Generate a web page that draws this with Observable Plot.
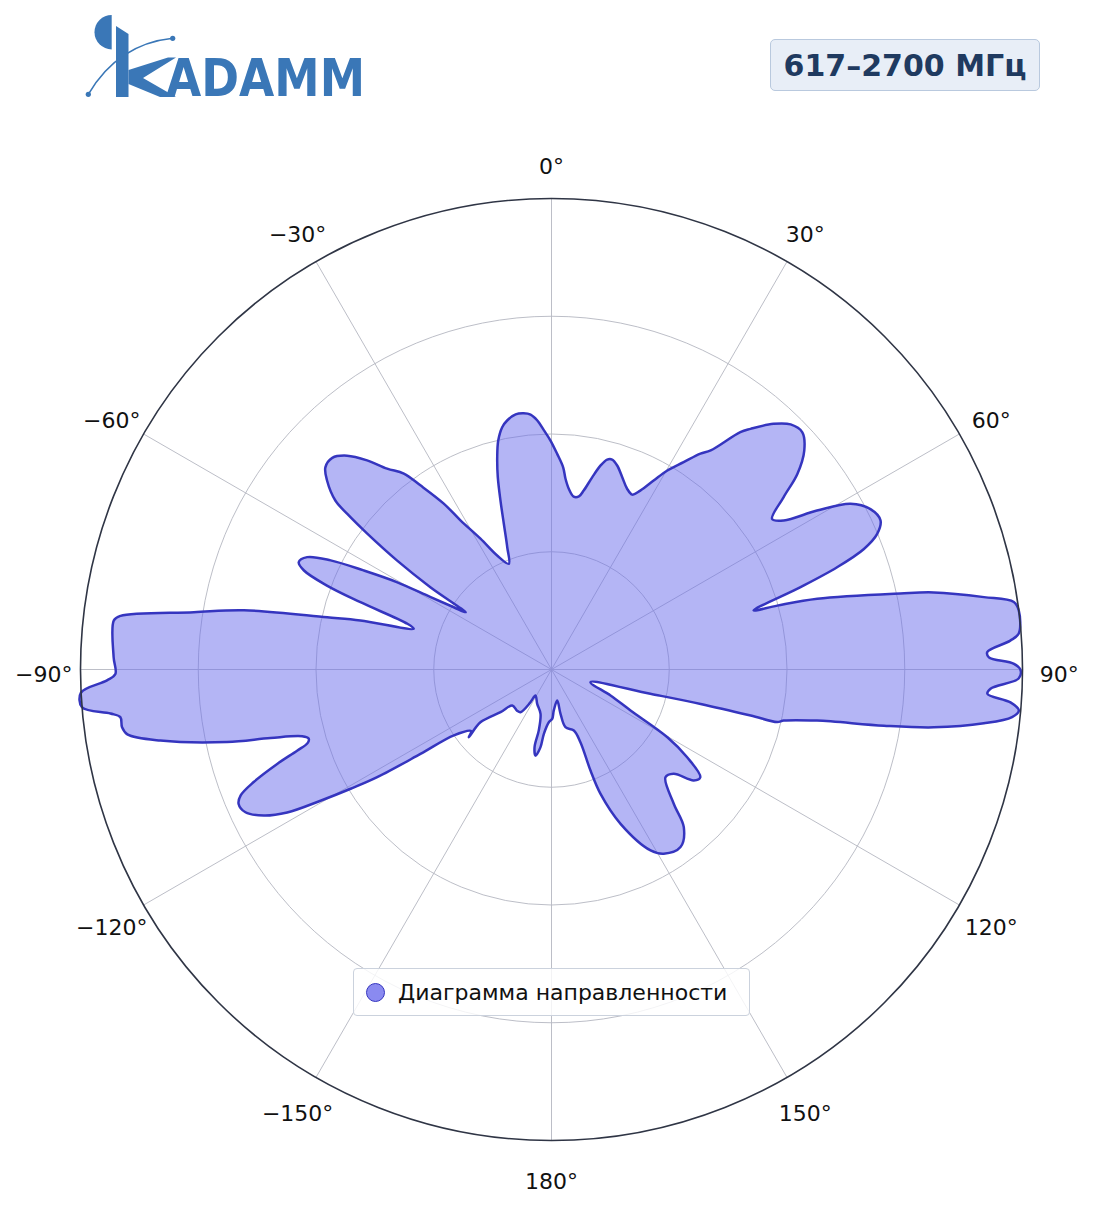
<!DOCTYPE html>
<html>
<head>
<meta charset="utf-8">
<script src="https://cdn.jsdelivr.net/npm/d3@7"></script>
<script src="https://cdn.jsdelivr.net/npm/@observablehq/plot@0.6"></script>
<style>
  html, body { margin: 0; padding: 0; background: #fff; }
  #page { position: relative; width: 1104px; height: 1211px; overflow: hidden; font-family: "DejaVu Sans", sans-serif; }
  #logo { position: absolute; left: 0; top: 0; }
  #band { position: absolute; left: 770px; top: 39px; width: 270px; height: 52px; box-sizing: border-box;
          background: #e8eef7; border: 1.5px solid #b9c9de; border-radius: 5px;
          display: flex; align-items: center; justify-content: center;
          font-weight: bold; font-size: 30px; color: #1f3a60; }
  #chart { position: absolute; left: 0; top: 120px; }
  #legend { position: absolute; left: 353px; top: 968px; width: 397px; height: 48px; box-sizing: border-box;
            border: 1.3px solid #cbd2dd; border-radius: 4px; background: rgba(255,255,255,0.82);
            display: flex; align-items: center; font-size: 22px; color: #111; }
  #legend .dot { width: 17px; height: 17px; border-radius: 50%; background: #8a8af0; border: 1.6px solid #3535bf; margin-left: 12px; margin-right: 13px; }
</style>
</head>
<body>
<div id="page">
  <svg id="logo" width="400" height="115" viewBox="0 0 400 115">
    <g fill="#3a77b7">
      <path d="M111.7,15 A17.2,17.2 0 0 0 111.7,49.4 Z"/>
      <polygon points="116,26 128.5,34 128.5,97 116,97"/>
      <polygon points="128.5,70 168,57.5 176,57.5 143,78 176,97 160,97 128.5,84"/>
      <text x="166" y="96" font-family="DejaVu Sans" font-weight="bold" font-size="52" textLength="199" lengthAdjust="spacingAndGlyphs">ADAMM</text>
    </g>
    <path d="M88.3,94.3 Q118,44 172.7,38.3" fill="none" stroke="#3a77b7" stroke-width="1.6"/>
    <circle cx="88.3" cy="94.3" r="2.6" fill="#3a77b7"/>
    <circle cx="172.7" cy="38.3" r="2.6" fill="#3a77b7"/>
  </svg>
  <div id="band">617–2700 МГц</div>
  <div id="chart"></div>
  <div id="legend"><div class="dot"></div><span>Диаграмма направленности</span></div>
</div>
<script>
// Pattern: azimuth (degrees, clockwise from top) and normalized radius (outer ring = 1)
const azimuth = [
  -22.0, -19.9, -18.1, -16.8, -15.6, -14.35, -13.1, -11.5, -10.1, -8.0,
  -6.2, -4.7, -3.3, -1.8, -0.25, 1.5, 3.3, 4.2, 5.5, 7.3,
  9.0, 10.2, 11.95, 13.5, 14.85, 16.1, 17.85, 20.2, 22.7, 24.8,
  26.4, 28.4, 30.2, 32.5, 34.6, 36.0, 38.5, 39.6, 42.1, 44.3,
  46.6, 49.1, 51.5, 53.4, 55.7, 57.3, 59.1, 61.0, 63.3, 65.6,
  67.4, 68.9, 70.3, 71.7, 73.7, 74.2, 75.1, 77.7, 78.6, 80.5,
  81.7, 82.8, 85.6, 86.4, 87.7, 88.4, 89.3, 90.1, 91.1, 92.5,
  93.2, 94.1, 95.0, 95.9, 97.1, 98.6, 99.6, 100.9, 102.4, 103.1,
  103.0, 103.0, 103.8, 108.0, 113.8, 117.4, 120.3, 122.9, 125.9, 127.95,
  130.5, 133.4, 137.7, 140.0, 144.0, 148.65, 151.3, 155.9, 158.5, 158.9,
  158.3, 159.9, 166.4, 168.5, 169.6, 176.8, 179.2, -177.1, -173.2, -171.9,
  -169.5, -167.7, -168.2, -166.1, -157.4, -148.4, -147.3, -144.0, -140.1, -132.5,
  -129.9, -126.6, -129.3, -127.5, -124.0, -122.8, -121.7, -120.7, -119.6, -118.4,
  -116.9, -115.0, -113.25, -112.05, -110.7, -109.0, -107.7, -106.8, -105.9, -105.0,
  -103.7, -102.6, -100.3, -98.7, -97.65, -96.3, -95.7, -94.6, -92.8, -91.4,
  -90.6, -88.4, -83.6, -82.9, -80.9, -79.1, -76.9, -75.6, -73.5, -72.4,
  -70.6, -69.5, -68.2, -67.0, -65.3, -63.7, -62.2, -60.5, -59.1, -57.5,
  -56.3, -55.8, -54.8, -53.6, -52.7, -52.0, -49.9, -48.2, -46.0, -43.7,
  -41.4, -39.3, -37.0, -35.45, -33.0, -31.4, -28.5, -25.5
];
const gain = [
  0.242, 0.276, 0.326, 0.375, 0.424, 0.465, 0.499, 0.525, 0.537, 0.547,
  0.547, 0.543, 0.530, 0.508, 0.486, 0.458, 0.430, 0.406, 0.385, 0.370,
  0.372, 0.386, 0.417, 0.445, 0.461, 0.464, 0.455, 0.435, 0.416, 0.409,
  0.424, 0.456, 0.489, 0.522, 0.557, 0.575, 0.644, 0.663, 0.703, 0.727,
  0.733, 0.710, 0.667, 0.614, 0.567, 0.586, 0.657, 0.726, 0.758, 0.767,
  0.749, 0.711, 0.644, 0.557, 0.447, 0.498, 0.584, 0.758, 0.828, 0.931,
  0.992, 1.000, 0.995, 0.976, 0.926, 0.929, 0.982, 0.996, 0.992, 0.933,
  0.927, 0.977, 0.996, 0.983, 0.925, 0.821, 0.716, 0.574, 0.505, 0.492,
  0.434, 0.325, 0.216, 0.087, 0.137, 0.189, 0.285, 0.343, 0.390, 0.383,
  0.341, 0.333, 0.386, 0.437, 0.466, 0.458, 0.438, 0.359, 0.284, 0.230,
  0.166, 0.138, 0.126, 0.096, 0.067, 0.087, 0.105, 0.112, 0.138, 0.167,
  0.186, 0.169, 0.132, 0.097, 0.079, 0.065, 0.083, 0.112, 0.114, 0.113,
  0.141, 0.188, 0.227, 0.215, 0.250, 0.331, 0.435, 0.496, 0.564, 0.638,
  0.685, 0.717, 0.723, 0.712, 0.676, 0.616, 0.567, 0.541, 0.536, 0.548,
  0.614, 0.706, 0.844, 0.911, 0.920, 0.921, 0.941, 1.000, 1.000, 0.944,
  0.926, 0.930, 0.935, 0.922, 0.769, 0.665, 0.489, 0.419, 0.305, 0.321,
  0.430, 0.509, 0.566, 0.583, 0.571, 0.523, 0.451, 0.376, 0.299, 0.246,
  0.219, 0.311, 0.401, 0.486, 0.545, 0.582, 0.623, 0.644, 0.647, 0.628,
  0.592, 0.551, 0.521, 0.480, 0.420, 0.371, 0.316, 0.268
];
const ringLevels = [0.25, 0.5, 0.75];
const spokeAngles = [0, 30, 60, 90, 120, 150, 180, -150, -120, -90, -60, -30];
const tickLabels = ["0°", "30°", "60°", "90°", "120°", "150°", "180°", "−150°", "−120°", "−90°", "−60°", "−30°"];

const rad = a => a * Math.PI / 180;
const px = (a, r) => r * Math.sin(rad(a));   // 0° at top, clockwise
const py = (a, r) => r * Math.cos(rad(a));
const pattern = azimuth.map((a, i) => ({a, r: gain[i]}));

const chart = Plot.plot({
  width: 1104,
  height: 1091,
  marginTop: 78, marginBottom: 71, marginLeft: 80, marginRight: 82,
  style: {fontFamily: "DejaVu Sans, sans-serif", fontSize: "22px", background: "transparent", overflow: "visible"},
  x: {domain: [-1, 1], axis: null},
  y: {domain: [-1, 1], axis: null},
  r: {type: "linear", domain: [0, 1], range: [0, 471]},
  marks: [
    Plot.dot(ringLevels, {x: () => 0, y: () => 0, r: d => d, fill: "none", stroke: "#b4b7c1", strokeWidth: 0.9}),
    Plot.link(spokeAngles, {x1: () => 0, y1: () => 0, x2: a => px(a, 1), y2: a => py(a, 1), stroke: "#b4b7c1", strokeWidth: 0.9}),
    Plot.line(pattern, {x: d => px(d.a, d.r), y: d => py(d.a, d.r), curve: "catmull-rom-closed",
      fill: "#6a6cec", fillOpacity: 0.5, stroke: "#3535bf", strokeWidth: 2.5, strokeLinejoin: "round"}),
    Plot.dot([1], {x: () => 0, y: () => 0, r: d => d, fill: "none", stroke: "#2f3545", strokeWidth: 1.6}),
    Plot.text(spokeAngles, {x: a => px(a, 1.078), y: a => py(a, 1.078), dy: 5, text: (a, i) => tickLabels[i], fontSize: 22, fill: "#111"})
  ]
});
document.getElementById("chart").appendChild(chart);
</script>
</body>
</html>
